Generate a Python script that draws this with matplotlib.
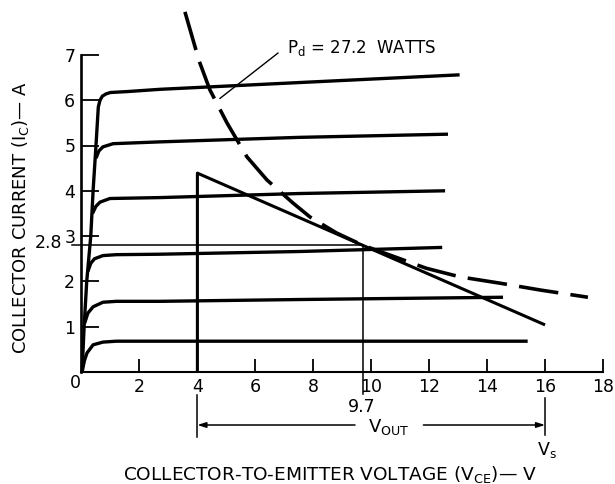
import matplotlib
matplotlib.use("Agg")
import matplotlib.pyplot as plt

# ---- data ----
x_ticks = [2, 4, 6, 8, 10, 12, 14, 16, 18]
x_tick_labels = ["2", "4", "6", "8", "10", "12", "14", "16", "18"]
y_ticks = [1, 2, 3, 4, 5, 6, 7]
y_tick_labels = ["1", "2", "3", "4", "5", "6", "7"]

# collector characteristic curves (VCE, IC)
c6_v = [0.02, 0.09, 0.18, 0.32, 0.40, 0.50, 0.58, 0.64, 0.72, 0.85, 1.0, 1.57, 2.7, 7.53, 13.05]
c6_i = [0.0, 1.0, 2.0, 3.0, 4.0, 5.0, 5.85, 6.0, 6.09, 6.14, 6.17, 6.19, 6.24, 6.39, 6.56]
c5_v = [0.50, 0.60, 0.74, 1.09, 2.7, 7.53, 12.65]
c5_i = [4.72, 4.88, 4.97, 5.04, 5.08, 5.18, 5.25]
c4_v = [0.38, 0.50, 0.64, 0.98, 2.7, 7.53, 12.55]
c4_i = [3.50, 3.66, 3.75, 3.83, 3.85, 3.94, 4.00]
c3_v = [0.22, 0.32, 0.45, 0.74, 1.2, 2.7, 7.53, 12.45]
c3_i = [2.22, 2.40, 2.50, 2.57, 2.59, 2.60, 2.66, 2.75]
c2_v = [0.11, 0.22, 0.40, 0.74, 1.2, 2.7, 7.53, 14.55]
c2_i = [1.08, 1.30, 1.44, 1.54, 1.56, 1.56, 1.60, 1.65]
c1_v = [0.03, 0.10, 0.19, 0.40, 0.74, 1.2, 2.7, 15.4]
c1_i = [0.03, 0.25, 0.42, 0.60, 0.66, 0.68, 0.68, 0.68]
curves = [(c1_v, c1_i), (c2_v, c2_i), (c3_v, c3_i), (c4_v, c4_i), (c5_v, c5_i), (c6_v, c6_i)]

# load line
load_v = [4.0, 4.0, 16.0]
load_i = [0.0, 4.39, 1.04]

# power dissipation curve Pd = 27.2 W
pd_v = [3.57, 3.95, 4.07, 4.43, 5.02, 5.71, 6.40, 7.30, 7.89, 8.80, 9.70, 11.9, 13.06, 14.45, 15.83, 17.48]
pd_i = [7.95, 7.11, 6.85, 6.23, 5.50, 4.75, 4.24, 3.73, 3.42, 3.07, 2.80, 2.29, 2.10, 1.96, 1.81, 1.65]

op_v = 9.7
op_i = 2.8
vs = 16.0
vmin = 4.0

# ---- figure ----
fig = plt.figure(figsize=(6.15, 4.84), dpi=100)
ax = fig.add_axes([81.5 / 615, 112 / 484, 521.5 / 615, 8.2 * 45.3 / 484])
ax.set_xlim(0, 18)
ax.set_ylim(0, 8.2)

for s in ["top", "right"]:
    ax.spines[s].set_visible(False)
ax.spines["left"].set_bounds(0, 7)
ax.spines["left"].set_linewidth(1.9)
ax.spines["bottom"].set_bounds(0, 18)
ax.spines["bottom"].set_linewidth(1.5)

ax.set_xticks(x_ticks)
ax.set_xticklabels(x_tick_labels)
ax.set_yticks(y_ticks)
ax.set_yticklabels(y_tick_labels)
ax.tick_params(axis="x", direction="in", length=9.5, width=1.3, pad=4, labelsize=12.5)
ax.tick_params(axis="y", direction="in", length=13, width=1.3, pad=4.5, labelsize=12.5)

K = dict(color="black", clip_on=False, solid_capstyle="butt")

for v, i in curves:
    ax.plot(v, i, lw=2.4, solid_joinstyle="round", **K)

ax.plot(load_v, load_i, lw=2.2, **K)

ax.plot(pd_v, pd_i, color="black", lw=2.6, clip_on=False,
        linestyle=(0, (11, 3.4)), dash_capstyle="butt")

# operating point guides
ax.plot([-0.34, op_v], [op_i, op_i], color="black", lw=1.1, clip_on=False)
ax.plot([op_v, op_v], [op_i, -0.49], color="black", lw=1.1, clip_on=False)
ax.text(-0.67, 2.85, "2.8", ha="right", va="center", fontsize=12.5)
ax.text(op_v - 0.02, -0.77, "9.7", ha="center", va="center", fontsize=12.5)
ax.text(-0.22, -0.24, "0", ha="center", va="center", fontsize=12.5)

# Pd annotation
ax.plot([6.78, 4.78], [7.04, 6.04], color="black", lw=1.0, clip_on=False)
ax.text(7.09, 7.15, r"$\mathregular{P_d}$ = 27.2  WATTS", ha="left", va="center", fontsize=12)

# Vout arrow
ax.plot([vmin, vmin], [-0.51, -1.43], color="black", lw=1.1, clip_on=False)
ax.plot([vs, vs], [-0.57, -1.39], color="black", lw=1.1, clip_on=False)
arr = dict(arrowstyle="-|>,head_length=0.5,head_width=0.16", color="black", lw=1.1,
           shrinkA=0, shrinkB=0)
ax.annotate("", xy=(vmin, -1.17), xytext=(9.44, -1.17), arrowprops=arr, annotation_clip=False)
ax.annotate("", xy=(vs, -1.17), xytext=(11.8, -1.17), arrowprops=arr, annotation_clip=False)
ax.text(10.6, -1.22, r"$\mathregular{V_{OUT}}$", ha="center", va="center", fontsize=13)
ax.text(16.07, -1.72, r"$\mathregular{V_s}$", ha="center", va="center", fontsize=12.5)

# axis titles
ax.text(8.58, -2.27, r"COLLECTOR-TO-EMITTER VOLTAGE ($\mathregular{V_{CE}}$)— V",
        ha="center", va="center", fontsize=13.3)
ax.text(-2.12, 3.4, r"COLLECTOR CURRENT ($\mathregular{I_C}$)— A",
        ha="center", va="center", rotation=90, fontsize=13)

fig.savefig("out.png", dpi=100)
